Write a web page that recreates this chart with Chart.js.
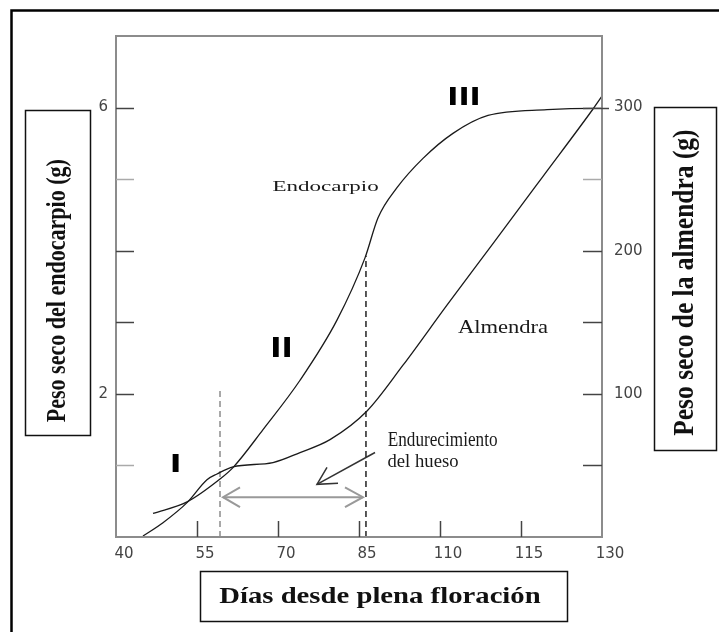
<!DOCTYPE html>
<html><head><meta charset="utf-8">
<script src="https://cdn.jsdelivr.net/npm/chart.js@4.4.1/dist/chart.umd.min.js"></script>
<style>html,body{margin:0;padding:0;background:#fff;}canvas{display:block;}</style>
</head><body>
<canvas id="c" width="719" height="632"></canvas>
<script>
// ---- axis tick labels ----
const xTickLabels = ['40', '55', '70', '85', '110', '115', '130'];
const leftTickLabels = [2, 6];
const rightTickLabels = [100, 200, 300];

// ---- series (x in tick-index units of the day axis) ----
const endoX = [0.457, 0.877, 1.284, 1.444, 1.815, 2.272, 2.728, 3.074, 3.235, 3.469, 3.790, 4.160, 4.593, 5.321, 5.889, 6.0];
const endoY = [0.33, 0.49, 0.81, 0.97, 1.50, 2.19, 3.03, 3.90, 4.46, 4.88, 5.29, 5.64, 5.89, 5.97, 5.99, 5.99];
const almX = [0.333, 0.580, 0.877, 1.123, 1.247, 1.444, 1.938, 2.272, 2.642, 3.099, 3.543, 4.086, 4.654, 5.272, 5.889, 6.0];
const almY = [0.7, 10, 24, 40, 44, 49, 52, 59, 68, 88, 120, 162, 205, 252, 299, 308];

// ---- annotation marks (data units, left axis) ----
const hardStartX = [1.284, 1.284], hardStartY = [0, 2.06];
const hardEndX = [3.086, 3.086], hardEndY = [0, 3.93];
const spanX = [1.321, 3.049], spanY = [0.556, 0.556];
const spanHeadLX = [1.531, 1.321, 1.531], spanHeadLY = [0.694, 0.556, 0.417];
const spanHeadRX = [2.827, 3.049, 2.827], spanHeadRY = [0.694, 0.556, 0.417];
const pointerX = [3.198, 2.481], pointerY = [1.181, 0.736];
const pointerHeadX = [2.605, 2.481, 2.741], pointerHeadY = [0.972, 0.736, 0.75];

// ---- texts ----
const titleLeft = 'Peso seco del endocarpio (g)';
const titleRight = 'Peso seco de la almendra (g)';
const titleBottom = 'Días desde plena floración';
const labelEndo = 'Endocarpio';
const labelAlm = 'Almendra';
const labelHard1 = 'Endurecimiento';
const labelHard2 = 'del hueso';
const stageLabels = ['I', 'II', 'III'];

const pts = (xs, ys) => xs.map((x, i) => ({x: x, y: ys[i]}));

function fitText(ctx, text, cx, cy, w, h, weight, family, rot) {
  ctx.save();
  ctx.font = weight + ' 100px ' + family;
  const m = ctx.measureText(text);
  const l = m.actualBoundingBoxLeft, r = m.actualBoundingBoxRight;
  const a = m.actualBoundingBoxAscent, d = m.actualBoundingBoxDescent;
  const gw = l + r, gh = a + d;
  ctx.translate(cx, cy);
  ctx.rotate(rot || 0);
  ctx.scale(w / gw, h / gh);
  ctx.textAlign = 'left';
  ctx.textBaseline = 'alphabetic';
  ctx.fillText(text, -gw / 2 + l, -gh / 2 + a);
  ctx.restore();
}

const SERIF = '"Liberation Serif", "DejaVu Serif", serif';
const SANS = '"DejaVu Sans", sans-serif';

const decor = {
  id: 'decor',
  beforeDraw(chart) {
    const ctx = chart.ctx;
    ctx.save();
    ctx.fillStyle = '#fff';
    ctx.fillRect(0, 0, chart.width, chart.height);
    ctx.strokeStyle = '#000';
    ctx.lineWidth = 2.5;
    ctx.beginPath();
    ctx.moveTo(11.5, chart.height);
    ctx.lineTo(11.5, 10.5);
    ctx.lineTo(chart.width, 10.5);
    ctx.stroke();
    ctx.restore();
  },
  afterDraw(chart) {
    const ctx = chart.ctx;
    const ca = chart.chartArea;
    const sx = chart.scales.x, sy = chart.scales.y, sy1 = chart.scales.y1;
    ctx.save();
    ctx.strokeStyle = '#8c8c8c';
    ctx.lineWidth = 2;
    ctx.strokeRect(ca.left, ca.top, ca.right - ca.left, ca.bottom - ca.top);
    ctx.lineWidth = 1.5;
    sy.ticks.forEach(t => {
      if (t.value <= sy.min || t.value >= sy.max) return;
      const p = Math.round(sy.getPixelForValue(t.value)) + 0.5;
      ctx.strokeStyle = (t.value % 2 === 1 && t.value !== 3) ? '#aaa' : '#444';
      ctx.beginPath(); ctx.moveTo(ca.left, p); ctx.lineTo(ca.left + 18, p); ctx.stroke();
    });
    sy1.ticks.forEach(t => {
      if (t.value <= sy1.min || t.value >= sy1.max) return;
      const p = Math.round(sy1.getPixelForValue(t.value)) + 0.5;
      ctx.strokeStyle = t.value === 250 ? '#aaa' : '#444';
      ctx.beginPath(); ctx.moveTo(ca.right - 19, p); ctx.lineTo(ca.right + (t.value === 300 ? 7 : 0), p); ctx.stroke();
    });
    sx.ticks.forEach(t => {
      if (t.value <= sx.min || t.value >= sx.max) return;
      const p = Math.round(sx.getPixelForValue(t.value)) + 0.5;
      ctx.strokeStyle = '#444';
      ctx.beginPath(); ctx.moveTo(p, ca.bottom); ctx.lineTo(p, ca.bottom - 16); ctx.stroke();
    });

    ctx.strokeStyle = '#111';
    ctx.lineWidth = 1.5;
    ctx.strokeRect(25.5, 110.5, 65, 325);
    ctx.strokeRect(654.5, 107.5, 62, 343);
    ctx.strokeRect(200.5, 571.5, 367, 50);
    ctx.fillStyle = '#111';
    fitText(ctx, titleLeft, 58, 291, 262, 26, 'bold', SERIF, -Math.PI / 2);
    fitText(ctx, titleRight, 686, 283, 305, 28, 'bold', SERIF, -Math.PI / 2);
    fitText(ctx, titleBottom, 380, 597, 321, 22, 'bold', SERIF, 0);

    const X = v => sx.getPixelForValue(v), Y = v => sy.getPixelForValue(v);
    ctx.fillStyle = '#1a1a1a';
    fitText(ctx, labelEndo, X(2.586), Y(4.889), 105, 13, 'normal', SERIF, 0);
    fitText(ctx, labelAlm, X(4.778), Y(2.938), 90, 13, 'normal', SERIF, 0);
    fitText(ctx, labelHard1, X(4.031), Y(1.361), 109, 14, 'normal', SERIF, 0);
    fitText(ctx, labelHard2, X(3.79), Y(1.069), 70, 13, 'normal', SERIF, 0);
    ctx.fillStyle = '#000';
    fitText(ctx, stageLabels[0], X(0.735), Y(1.028), 6, 18, 'bold', SANS, 0);
    fitText(ctx, stageLabels[1], X(2.043), Y(2.646), 17, 19, 'bold', SANS, 0);
    fitText(ctx, stageLabels[2], X(4.296), Y(6.167), 28, 18, 'bold', SANS, 0);
    ctx.restore();
  }
};

const lineDs = (data, color, width, extra) => Object.assign({
  data: data, showLine: true, pointRadius: 0, borderColor: color,
  borderWidth: width, fill: false, tension: 0, yAxisID: 'y'
}, extra || {});

const tickFont = {family: 'DejaVu Sans', size: 15};

new Chart(document.getElementById('c'), {
  type: 'scatter',
  data: {
    datasets: [
      lineDs(pts(endoX, endoY), '#1a1a1a', 1.3, {cubicInterpolationMode: 'monotone', label: 'Endocarpio'}),
      lineDs(pts(almX, almY), '#1a1a1a', 1.3, {cubicInterpolationMode: 'monotone', yAxisID: 'y1', label: 'Almendra'}),
      lineDs(pts(hardStartX, hardStartY), '#8c8c8c', 1.5, {borderDash: [6, 4]}),
      lineDs(pts(hardEndX, hardEndY), '#222', 1.5, {borderDash: [6, 4]}),
      lineDs(pts(spanX, spanY), '#999', 2),
      lineDs(pts(spanHeadLX, spanHeadLY), '#999', 2),
      lineDs(pts(spanHeadRX, spanHeadRY), '#999', 2),
      lineDs(pts(pointerX, pointerY), '#333', 1.5),
      lineDs(pts(pointerHeadX, pointerHeadY), '#333', 1.5)
    ]
  },
  options: {
    responsive: false,
    animation: false,
    devicePixelRatio: 1,
    events: [],
    layout: {padding: {top: 36, left: 0, right: 0, bottom: 0}},
    plugins: {legend: {display: false}, tooltip: {enabled: false}},
    scales: {
      x: {
        type: 'linear', position: 'bottom', min: 0, max: 6,
        grid: {display: false, drawTicks: false},
        border: {display: false},
        ticks: {stepSize: 1, autoSkip: false, maxRotation: 0, padding: 8, labelOffset: 8,
          color: '#444', font: tickFont,
          callback: v => (xTickLabels[v] !== undefined ? xTickLabels[v] : '')},
        afterFit: s => { s.height = 95; }
      },
      y: {
        type: 'linear', position: 'left', min: 0, max: 7,
        grid: {display: false, drawTicks: false},
        border: {display: false},
        ticks: {stepSize: 1, padding: 8, color: '#444', font: tickFont,
          callback: v => (leftTickLabels.includes(v) ? String(v) : '')},
        afterFit: s => { s.width = 116; }
      },
      y1: {
        type: 'linear', position: 'right', min: 0, max: 350,
        grid: {display: false, drawTicks: false},
        border: {display: false},
        ticks: {stepSize: 50, padding: 12, color: '#444', font: tickFont,
          callback: v => (rightTickLabels.includes(v) ? String(v) : '')},
        afterFit: s => { s.width = 117; }
      }
    }
  },
  plugins: [decor]
});
</script>
</body></html>
